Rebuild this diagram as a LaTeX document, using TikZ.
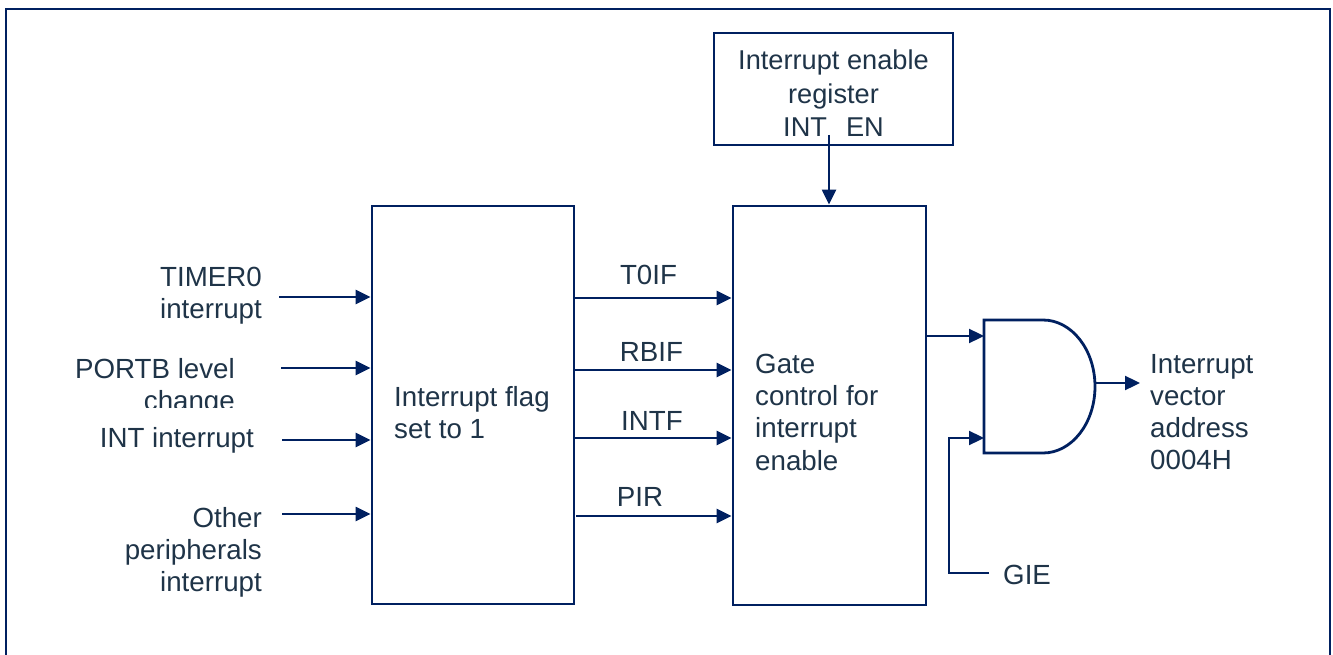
\documentclass[tikz,border=0pt]{standalone}
\usepackage{fontspec}
\setmainfont{Liberation Sans}
\usetikzlibrary{arrows.meta}
\definecolor{navy}{RGB}{0,32,96}
\definecolor{txt}{RGB}{31,52,72}
\begin{document}
\begin{tikzpicture}[x=1pt,y=-1pt,
  box/.style={draw=navy,line width=2.8pt,inner sep=0pt},
  conn/.style={draw=navy,line width=2.3pt,-{Triangle[length=15pt,width=14pt]}},
  wire/.style={draw=navy,line width=2.3pt},
  lbl/.style={text=txt,font=\fontsize{27.7}{32.2}\selectfont,inner sep=0pt},
]
\useasboundingbox (0,0) rectangle (1333,655);
\fill[white] (0,0) rectangle (1333,655);
\draw[navy,line width=2pt] (6,9) rectangle (1330,690);

% boxes
\node[box,minimum width=202pt,minimum height=398pt] (flag) at (473,405) {};
\node[box,minimum width=193pt,minimum height=399pt] (gate) at (829.5,405.5) {};
\node[box,minimum width=239pt,minimum height=112pt] (ie) at (833.5,89) {};

% box texts
\node[lbl,anchor=north,align=center,font=\fontsize{27.2}{33.2}\selectfont] (ietxt) at (833.5,50) {Interrupt enable\\register\\INT\hspace{19pt}EN};
\node[lbl,anchor=north west,align=left] (flagtxt) at (394,386) {Interrupt flag\\set to 1};
\node[lbl,anchor=north west,align=left] (gatetxt) at (755,354) {Gate\\control for\\interrupt\\enable};

% IE arrow
\coordinate (iest) at (829,135);
\draw[conn] (iest) -- (iest |- gate.north);

% input labels
\node[lbl,anchor=north east,align=right] (l1) at (262,267) {TIMER0\\interrupt};
\begin{scope}
  \clip (60,340) rectangle (300,407);
  \node[lbl,anchor=north east,align=right] (l2) at (235,358) {PORTB level\\change};
\end{scope}
\node[lbl,anchor=north east,align=right] (l3) at (254,427) {INT interrupt};
\node[lbl,anchor=north east,align=right] (l4) at (262,507) {Other\\peripherals\\interrupt};

% input arrows
\coordinate (i1) at (279,297);
\coordinate (i2) at (281,368);
\coordinate (i3) at (282,440);
\coordinate (i4) at (282,514);
\foreach \c in {i1,i2,i3,i4} \draw[conn] (\c) -- (\c -| flag.west);

% flag outputs
\coordinate (t1) at (574,298);
\coordinate (t2) at (574,370);
\coordinate (t3) at (574,438);
\coordinate (t4) at (576,516);
\foreach \c in {t1,t2,t3,t4} \draw[conn] (\c) -- (\c -| gate.west);
\node[lbl,anchor=north] (n1) at (648.5,265) {T0IF};
\node[lbl,anchor=north] (n2) at (651.5,342) {RBIF};
\node[lbl,anchor=north] (n3) at (652,411) {INTF};
\node[lbl,anchor=north] (n4) at (640,487) {PIR};

% AND gate
\draw[navy,line width=2.8pt,line join=miter] (984,320) -- (1043,320)
  arc[start angle=90,end angle=-90,x radius=52pt,y radius=66.5pt]
  -- (984,453) -- cycle;
\coordinate (gin1) at (984,336);
\coordinate (gin2) at (984,438);
\coordinate (gout) at (1095,383);
\draw[conn] (gin1 -| gate.east) -- (gin1);

% GIE
\node[lbl,anchor=north west] (gie) at (1003,565) {GIE};
\coordinate (gs) at (989,573);
\draw[conn] (gs) -- (949,573) -- (949,438) -- (gin2);

% output
\coordinate (oend) at (1140,383);
\draw[conn] (gout) -- (oend);
\node[lbl,anchor=north west,align=left] (outtxt) at (1150,354) {Interrupt\\vector\\address\\0004H};
\end{tikzpicture}
\end{document}
